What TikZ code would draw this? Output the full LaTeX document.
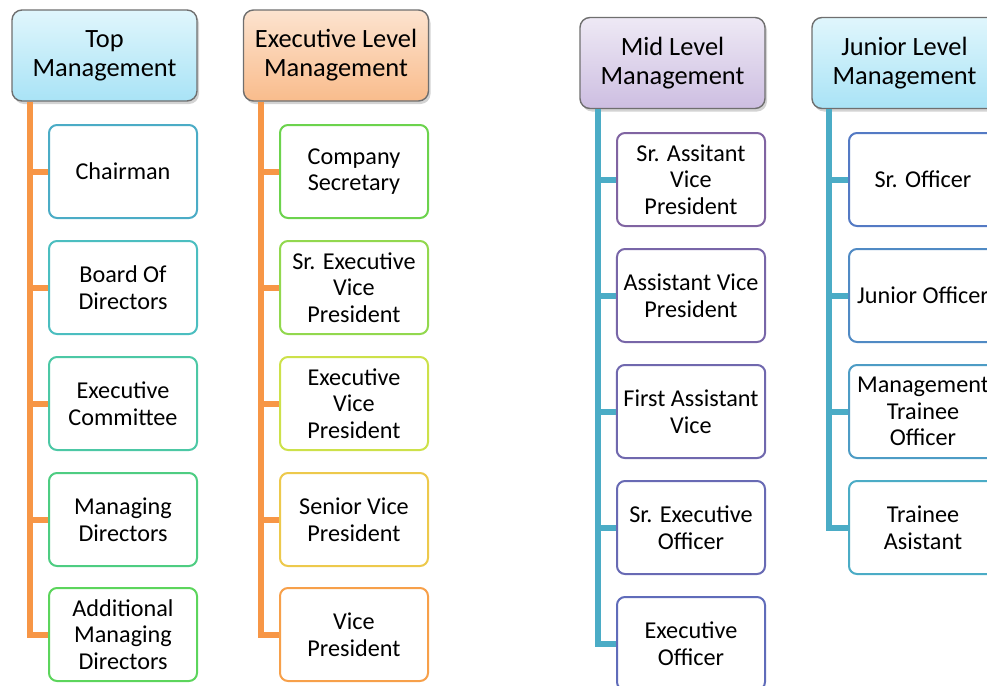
\documentclass[tikz,border=0pt]{standalone}
\usepackage{fontspec}
\setmainfont{Carlito}
\usetikzlibrary{shadows}

% Line and header colours
\definecolor{lineorange}{HTML}{F79646}
\definecolor{lineteal}{HTML}{4BACC6}
\definecolor{headgray}{HTML}{6F6F6F}
\definecolor{cyantop}{HTML}{E0F6FC}
\definecolor{cyanbot}{HTML}{A9E3F6}
\definecolor{peachtop}{HTML}{FCE3CF}
\definecolor{peachbot}{HTML}{F9BC8C}
\definecolor{lilactop}{HTML}{EEE9F5}
\definecolor{lilacbot}{HTML}{CDBEE1}

% Box border colours, one per box
\definecolor{topA}{HTML}{4BACC6}
\definecolor{topB}{HTML}{4BBEC0}
\definecolor{topC}{HTML}{4CC8A5}
\definecolor{topD}{HTML}{4ECD82}
\definecolor{topE}{HTML}{5CD55C}
\definecolor{execA}{HTML}{6CD34D}
\definecolor{execB}{HTML}{92D84E}
\definecolor{execC}{HTML}{CDE14A}
\definecolor{execD}{HTML}{EDC94C}
\definecolor{execE}{HTML}{F7A04A}
\definecolor{midA}{HTML}{8064A2}
\definecolor{midB}{HTML}{7866A8}
\definecolor{midC}{HTML}{7068AE}
\definecolor{midD}{HTML}{686AB4}
\definecolor{midE}{HTML}{606CBA}
\definecolor{junA}{HTML}{547AC4}
\definecolor{junB}{HTML}{508AC4}
\definecolor{junC}{HTML}{4D9CC5}
\definecolor{junD}{HTML}{4BACC6}

\tikzset{
  head/.style={draw=headgray, line width=0.7pt, rounded corners=5pt,
    minimum width=92.5pt, minimum height=45.5pt, align=center,
    font=\fontsize{13.2}{14.6}\selectfont,
    drop shadow={shadow xshift=1pt, shadow yshift=-1.5pt, opacity=0.35}},
  member/.style={draw=#1, line width=1pt, rounded corners=4pt, fill=white,
    minimum width=74pt, minimum height=46.5pt, align=center,
    font=\fontsize{12.1}{13.3}\selectfont},
  orangeline/.style={draw=lineorange, line width=3pt},
  tealline/.style={draw=lineteal, line width=3pt}
}

\begin{document}
\begin{tikzpicture}[x=0.5pt, y=-0.5pt]
    % Page frame
    \useasboundingbox (0,0) rectangle (987,686);
    \clip (0,0) rectangle (987,686);

    % Draw the four level headers
    \node[head, top color=cyantop, bottom color=cyanbot] (tophead) at (104.5,55.5) {Top\\Management};
    \node[head, top color=peachtop, bottom color=peachbot] (exechead) at (336,55.5) {Executive Level\\Management};
    \node[head, top color=lilactop, bottom color=lilacbot] (midhead) at (672.5,63) {Mid Level\\Management};
    \node[head, top color=cyantop, bottom color=cyanbot] (junhead) at (904.5,63) {Junior Level\\Management};

    % Top management column
    \node[member=topA] (t1) at (123,171.5) {Chairman};
    \node[member=topB] (t2) at (123,287.5) {Board Of\\Directors};
    \node[member=topC] (t3) at (123,403.5) {Executive\\Committee};
    \node[member=topD] (t4) at (123,519.5) {Managing\\Directors};
    \node[member=topE] (t5) at (123,634.5) {Additional\\Managing\\Directors};

    % Executive level column
    \node[member=execA] (e1) at (354,171.5) {Company\\Secretary};
    \node[member=execB] (e2) at (354,287.5) {Sr. Executive\\Vice\\President};
    \node[member=execC] (e3) at (354,403.5) {Executive\\Vice\\President};
    \node[member=execD] (e4) at (354,519.5) {Senior Vice\\President};
    \node[member=execE] (e5) at (354,634.5) {Vice\\President};

    % Mid level column
    \node[member=midA] (m1) at (691,179.5) {Sr. Assitant\\Vice\\President};
    \node[member=midB] (m2) at (691,295.5) {Assistant Vice\\President};
    \node[member=midC] (m3) at (691,411.5) {First Assistant\\Vice};
    \node[member=midD] (m4) at (691,527.5) {Sr. Executive\\Officer};
    \node[member=midE] (m5) at (691,643.5) {Executive\\Officer};

    % Junior level column
    \node[member=junA] (j1) at (923,179.5) {Sr. Officer};
    \node[member=junB] (j2) at (923,295.5) {Junior Officer};
    \node[member=junC] (j3) at (923,411.5) {Management\\Trainee\\Officer};
    \node[member=junD] (j4) at (923,527.5) {Trainee\\Asistant};

    % Spines just under the headers
    \coordinate (topspine) at ([xshift=9.5pt]tophead.south west);
    \coordinate (execspine) at ([xshift=9pt]exechead.south west);
    \coordinate (midspine) at ([xshift=9.5pt]midhead.south west);
    \coordinate (junspine) at ([xshift=9pt]junhead.south west);

    % Draw the connectors
    \draw[orangeline] (topspine) |- (t1.west) (topspine) |- (t2.west) (topspine) |- (t3.west)
        (topspine) |- (t4.west) (topspine) |- (t5.west);
    \draw[orangeline] (execspine) |- (e1.west) (execspine) |- (e2.west) (execspine) |- (e3.west)
        (execspine) |- (e4.west) (execspine) |- (e5.west);
    \draw[tealline] (midspine) |- (m1.west) (midspine) |- (m2.west) (midspine) |- (m3.west)
        (midspine) |- (m4.west) (midspine) |- (m5.west);
    \draw[tealline] (junspine) |- (j1.west) (junspine) |- (j2.west) (junspine) |- (j3.west)
        (junspine) |- (j4.west);
\end{tikzpicture}
\end{document}
